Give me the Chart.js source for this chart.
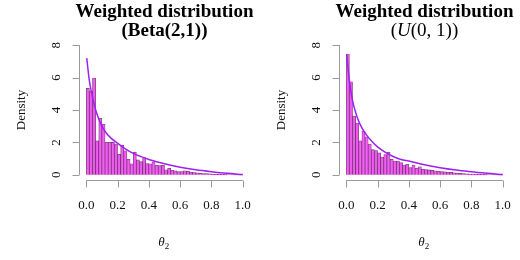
<!DOCTYPE html>
<html>
<head>
<meta charset="utf-8">
<script src="https://cdn.jsdelivr.net/npm/chart.js@4"></script>
<style>
  body { margin: 0; background: #fff; }
  #wrap { display: flex; width: 520px; height: 260px; }
  canvas { display: block; }
</style>
</head>
<body>
<div id="wrap">
  <canvas id="leftChart" width="260" height="260"></canvas>
  <canvas id="rightChart" width="260" height="260"></canvas>
</div>
<script>
// histogram bin midpoints (bin width 0.02)
const binMid = [0.01, 0.03, 0.05, 0.07, 0.09, 0.11, 0.13, 0.15, 0.17, 0.19,
                0.21, 0.23, 0.25, 0.27, 0.29, 0.31, 0.33, 0.35, 0.37, 0.39,
                0.41, 0.43, 0.45, 0.47, 0.49, 0.51, 0.53, 0.55, 0.57, 0.59,
                0.61, 0.63, 0.65, 0.67, 0.69, 0.71, 0.73, 0.75, 0.77, 0.79,
                0.81, 0.83, 0.85, 0.87, 0.89, 0.91, 0.93, 0.95, 0.97, 0.99];

const betaHist = [5.33, 5.17, 5.97, 2.09, 3.49, 3.12, 2.01, 2.01, 2.0, 1.9,
                  1.27, 1.83, 1.48, 0.96, 0.68, 1.4, 0.92, 0.82, 1.07, 0.7,
                  0.68, 0.8, 0.59, 0.57, 0.59, 0.31, 0.4, 0.28, 0.24, 0.2,
                  0.2, 0.25, 0.22, 0.16, 0.14, 0.12, 0.1, 0.08, 0.07, 0.06,
                  0.05, 0.04, 0.04, 0.03, 0.03, 0.02, 0.02, 0.01, 0.01, 0.01];

const unifHist = [7.45, 5.74, 3.63, 3.2, 2.1, 2.7, 2.35, 1.9, 1.55, 1.5,
                  1.35, 1.1, 1.25, 1.4, 0.95, 0.85, 0.85, 0.75, 0.6, 0.65,
                  0.45, 0.6, 0.4, 0.5, 0.35, 0.32, 0.3, 0.27, 0.25, 0.22,
                  0.2, 0.18, 0.16, 0.15, 0.13, 0.1, 0.09, 0.08, 0.06, 0.05,
                  0.05, 0.04, 0.04, 0.03, 0.03, 0.02, 0.02, 0.01, 0.01, 0.01];

// density curves
const curveX    = [0.003, 0.02, 0.04, 0.06, 0.08, 0.1, 0.13, 0.16, 0.2, 0.25,
                   0.3, 0.35, 0.4, 0.5, 0.6, 0.7, 0.8, 0.9, 1.0];
const betaCurve = [7.2, 5.8, 4.8, 4.0, 3.45, 3.0, 2.55, 2.25, 1.95, 1.6,
                   1.32, 1.12, 0.95, 0.68, 0.47, 0.31, 0.19, 0.09, 0.02];
const unifCurve = [7.4, 5.8, 4.6, 3.85, 3.3, 2.9, 2.45, 2.1, 1.72, 1.38,
                   1.13, 0.95, 0.85, 0.62, 0.44, 0.3, 0.19, 0.09, 0.02];

const xTicks = [0, 0.2, 0.4, 0.6, 0.8, 1.0];
const yTicks = [0, 2, 4, 6, 8];

const SERIF = "'Liberation Serif', 'DejaVu Serif', serif";
const AXIS_GREY = "#9a9a9a";

function drawSegments(ctx, segs, cx, y) {
    let total = 0;
    segs.forEach(function (s) {
        ctx.font = s.font;
        total += ctx.measureText(s.text).width;
    });
    let x = cx - total / 2;
    ctx.textAlign = "left";
    segs.forEach(function (s) {
        ctx.font = s.font;
        ctx.fillText(s.text, x, y);
        x += ctx.measureText(s.text).width;
    });
}

const rStyle = {
    id: "rStyle",
    afterDraw(chart, args, opts) {
        const ctx = chart.ctx;
        const area = chart.chartArea;
        const xs = chart.scales.x;
        const ys = chart.scales.y;
        ctx.save();

        // axes, R style: line runs from first to last tick
        ctx.strokeStyle = AXIS_GREY;
        ctx.lineWidth = 1;
        const xb = Math.round(area.bottom) + 0.5;
        ctx.beginPath();
        ctx.moveTo(xs.getPixelForValue(xTicks[0]), xb);
        ctx.lineTo(xs.getPixelForValue(xTicks[xTicks.length - 1]), xb);
        xTicks.forEach(function (v) {
            const px = Math.round(xs.getPixelForValue(v)) + 0.5;
            ctx.moveTo(px, xb);
            ctx.lineTo(px, xb + 7);
        });
        const yl = Math.round(area.left) - 0.5;
        ctx.moveTo(yl, ys.getPixelForValue(yTicks[0]));
        ctx.lineTo(yl, ys.getPixelForValue(yTicks[yTicks.length - 1]));
        yTicks.forEach(function (v) {
            const py = Math.round(ys.getPixelForValue(v)) + 0.5;
            ctx.moveTo(yl, py);
            ctx.lineTo(yl - 7, py);
        });
        ctx.stroke();

        ctx.fillStyle = "#111";
        ctx.textBaseline = "middle";
        ctx.textAlign = "center";
        ctx.font = "13px " + SERIF;
        xTicks.forEach(function (v) {
            ctx.fillText(v.toFixed(1), xs.getPixelForValue(v), xb + 25);
        });
        yTicks.forEach(function (v) {
            ctx.save();
            ctx.translate(area.left - 23, ys.getPixelForValue(v));
            ctx.rotate(-Math.PI / 2);
            ctx.fillText(String(v), 0, 0);
            ctx.restore();
        });

        // axis titles
        ctx.save();
        ctx.translate(22, (area.top + area.bottom) / 2);
        ctx.rotate(-Math.PI / 2);
        ctx.fillText("Density", 0, 0);
        ctx.restore();

        const cx = (area.left + area.right) / 2;
        ctx.textBaseline = "alphabetic";
        ctx.font = "italic 13px " + SERIF;
        const tw = ctx.measureText("θ").width;
        drawSegments(ctx, [{ text: "θ", font: "italic 13px " + SERIF }], cx - 3, 246);
        ctx.font = "9px " + SERIF;
        ctx.fillText("2", cx - 3 + tw / 2, 249);

        // main title
        ctx.fillStyle = "#000";
        drawSegments(ctx, [{ text: "Weighted distribution", font: "bold 19px " + SERIF }], cx, 17);
        drawSegments(ctx, opts.sub, cx, 36);
        ctx.restore();
    }
};

function makeChart(id, hist, curve, sub) {
    const ctx = document.getElementById(id).getContext("2d");
    return new Chart(ctx, {
        data: {
            datasets: [
                {
                    type: "line",
                    data: curveX.map(function (x, i) { return { x: x, y: curve[i] }; }),
                    borderColor: "#a020f0",
                    borderWidth: 1.5,
                    pointRadius: 0,
                    cubicInterpolationMode: "monotone",
                    fill: false,
                },
                {
                    type: "bar",
                    data: binMid.map(function (x, i) { return { x: x, y: hist[i] }; }),
                    backgroundColor: "rgba(240, 80, 240, 0.9)",
                    borderColor: "rgba(70, 20, 70, 0.8)",
                    borderWidth: 0.6,
                    barPercentage: 1,
                    categoryPercentage: 1,
                    grouped: false,
                },
            ],
        },
        options: {
            responsive: false,
            animation: false,
            devicePixelRatio: 1,
            layout: { padding: { left: 80, right: 11, top: 40, bottom: 80 } },
            plugins: {
                legend: { display: false },
                tooltip: { enabled: false },
                rStyle: { sub: sub },
            },
            scales: {
                x: { type: "linear", min: -0.04, max: 1.04, offset: false, display: false },
                y: { type: "linear", min: -0.32, max: 8.32, display: false },
            },
        },
        plugins: [rStyle],
    });
}

makeChart("leftChart", betaHist, betaCurve, [
    { text: "(Beta(2,1))", font: "bold 19px " + SERIF }
]);
makeChart("rightChart", unifHist, unifCurve, [
    { text: "(", font: "19px " + SERIF },
    { text: "U", font: "italic 19px " + SERIF },
    { text: "(0, 1))", font: "19px " + SERIF }
]);
</script>
</body>
</html>
